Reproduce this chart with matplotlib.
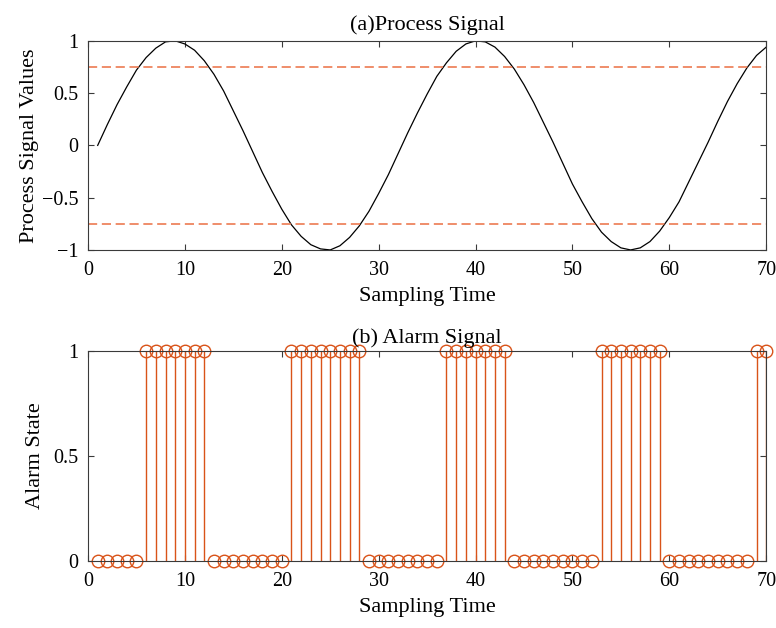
import matplotlib.pyplot as plt
import numpy as np

plt.rcParams['font.family'] = ['Liberation Serif', 'DejaVu Serif']
plt.rcParams['axes.unicode_minus'] = True

# sampling instants
t = list(range(1, 71))

# process signal values
signal = [0.00, 0.20, 0.39, 0.56, 0.72, 0.84, 0.93, 0.99, 1.00, 0.97,
          0.91, 0.81, 0.68, 0.52, 0.33, 0.14, -0.06, -0.26, -0.44, -0.61,
          -0.76, -0.87, -0.95, -0.99, -1.00, -0.96, -0.88, -0.77, -0.63, -0.46,
          -0.28, -0.08, 0.12, 0.31, 0.49, 0.66, 0.79, 0.90, 0.97, 1.00,
          0.99, 0.94, 0.85, 0.73, 0.58, 0.41, 0.22, 0.03, -0.17, -0.37,
          -0.54, -0.70, -0.83, -0.92, -0.98, -1.00, -0.98, -0.92, -0.82, -0.69,
          -0.54, -0.35, -0.16, 0.03, 0.23, 0.42, 0.59, 0.74, 0.86, 0.94]

# alarm thresholds
hi_limit = 0.75
lo_limit = -0.75

# alarm state per sample
alarm = [0, 0, 0, 0, 0, 1, 1, 1, 1, 1, 1, 1,
         0, 0, 0, 0, 0, 0, 0, 0,
         1, 1, 1, 1, 1, 1, 1, 1,
         0, 0, 0, 0, 0, 0, 0, 0,
         1, 1, 1, 1, 1, 1, 1,
         0, 0, 0, 0, 0, 0, 0, 0, 0,
         1, 1, 1, 1, 1, 1, 1,
         0, 0, 0, 0, 0, 0, 0, 0, 0,
         1, 1]

orange = '#D95319'
dash_col = '#EC7A52'
spine_col = '#3a3a3a'

fig = plt.figure(figsize=(7.76, 6.28), dpi=100)
ax1 = fig.add_axes([0.1134, 0.602, 0.874, 0.333])
ax2 = fig.add_axes([0.1134, 0.1067, 0.874, 0.334])

# (a) process signal
ax1.plot(t, signal, color='black', lw=0.9)
ax1.axhline(hi_limit, color=dash_col, ls=(0, (5.5, 2.8)), lw=1.2)
ax1.axhline(lo_limit, color=dash_col, ls=(0, (5.5, 2.8)), lw=1.2)
ax1.set_xlim(0, 70)
ax1.set_ylim(-1, 1)
ax1.set_yticks([-1, -0.5, 0, 0.5, 1])
ax1.set_yticklabels(['\u22121', '\u22120.5', '0', '0.5', '1'])
ax1.set_title('(a)Process Signal', fontsize=16, pad=8)
ax1.set_xlabel('Sampling Time', fontsize=16, labelpad=5)
ax1.set_ylabel('Process Signal Values', fontsize=16, labelpad=2)

# (b) alarm signal
markerline, stemlines, baseline = ax2.stem(t, alarm, linefmt='-', markerfmt='o', basefmt=' ')
plt.setp(stemlines, color=orange, lw=1.0)
plt.setp(markerline, color=orange, markerfacecolor='none', markersize=9,
         markeredgewidth=1.0, clip_on=False)
ax2.set_xlim(0, 70)
ax2.set_ylim(0, 1)
ax2.set_yticks([0, 0.5, 1])
ax2.set_yticklabels(['0', '0.5', '1'])
ax2.set_title('(b) Alarm Signal', fontsize=16, pad=5.8)
ax2.set_xlabel('Sampling Time', fontsize=16, labelpad=5)
ax2.set_ylabel('Alarm State', fontsize=16, labelpad=6)

for ax in (ax1, ax2):
    ax.set_xticks(range(0, 71, 10))
    ax.tick_params(direction='in', top=True, right=True, length=4,
                   width=0.8, labelsize=14.5, color=spine_col)
    ax.tick_params(axis='x', pad=8)
    ax.tick_params(axis='y', pad=7)
    for s in ax.spines.values():
        s.set_color(spine_col)
        s.set_linewidth(0.8)

fig.savefig('out.png', dpi=100)
